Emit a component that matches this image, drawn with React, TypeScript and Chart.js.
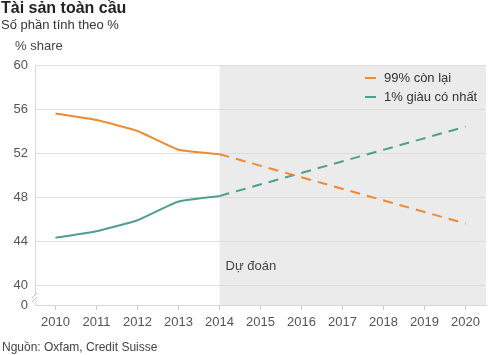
import React, { useEffect, useRef } from "react";
import { Chart, registerables } from "chart.js";
Chart.register(...registerables);

const years = ["2010", "2011", "2012", "2013", "2014", "2015", "2016", "2017", "2018", "2019", "2020"];
const rest99Actual = [55.6, 55.0, 54.0, 52.3, 51.9, null, null, null, null, null, null];
const rest99Forecast = [null, null, null, null, 51.9, null, null, null, null, null, 45.6];
const top1Actual = [44.3, 44.9, 45.9, 47.6, 48.1, null, null, null, null, null, null];
const top1Forecast = [null, null, null, null, 48.1, null, null, null, null, null, 54.4];
const yTicks = [40, 44, 48, 52, 56, 60];
const yBreakValue = 38.2;
const legendLabels = ["99% còn lại", "1% giàu có nhất"];

const ORANGE = "#ee8a33";
const TEAL = "#4f9e94";
const FONT = "'Liberation Sans', Arial, sans-serif";

export default function App() {
  const ref = useRef<HTMLCanvasElement>(null);
  useEffect(() => {
    const canvas = ref.current!;
    const overlay = {
      id: "overlay",
      beforeDatasetsDraw(chart: any) {
        const { ctx, chartArea, scales } = chart;
        const x0 = scales.x.getPixelForValue(4);
        ctx.save();
        ctx.fillStyle = "#ebebeb";
        ctx.fillRect(x0, chartArea.top, chartArea.right - x0, chartArea.bottom - chartArea.top);
        ctx.strokeStyle = "#dcdcdc";
        ctx.lineWidth = 1;
        for (const v of yTicks) {
          const y = Math.round(scales.y.getPixelForValue(v)) + 0.5;
          ctx.beginPath();
          ctx.moveTo(x0, y);
          ctx.lineTo(chartArea.right, y);
          ctx.stroke();
        }
        ctx.fillStyle = "#444";
        ctx.font = "13px " + FONT;
        ctx.textBaseline = "alphabetic";
        ctx.fillText("Dự đoán", x0 + 6, 270);
        ctx.restore();
      },
      afterDraw(chart: any) {
        const { ctx, chartArea } = chart;
        ctx.save();
        const bx = chartArea.left;
        ctx.fillStyle = "#fff";
        ctx.fillRect(bx - 3, 294, 6, 7);
        ctx.strokeStyle = "#bbb";
        ctx.lineWidth = 1;
        ctx.beginPath();
        ctx.moveTo(bx - 3, 298);
        ctx.lineTo(bx + 2, 293);
        ctx.moveTo(bx - 3, 302);
        ctx.lineTo(bx + 2, 297);
        ctx.stroke();
        const cols = [ORANGE, TEAL];
        ctx.font = "13px " + FONT;
        ctx.textBaseline = "middle";
        legendLabels.forEach((l, i) => {
          const y = 78 + i * 19;
          ctx.strokeStyle = cols[i];
          ctx.lineWidth = 2;
          ctx.beginPath();
          ctx.moveTo(365, y);
          ctx.lineTo(376, y);
          ctx.stroke();
          ctx.fillStyle = "#333";
          ctx.fillText(l, 384, y);
        });
        ctx.restore();
      },
    };
    const chart = new Chart(canvas, {
      type: "line",
      data: {
        labels: years,
        datasets: [
          { data: rest99Actual, borderColor: ORANGE, borderWidth: 2, pointRadius: 0, tension: 0.15 },
          { data: rest99Forecast, borderColor: ORANGE, borderWidth: 2, pointRadius: 0, spanGaps: true, borderDash: [10, 7] },
          { data: top1Actual, borderColor: TEAL, borderWidth: 2, pointRadius: 0, tension: 0.15 },
          { data: top1Forecast, borderColor: TEAL, borderWidth: 2, pointRadius: 0, spanGaps: true, borderDash: [10, 7] },
        ],
      },
      options: {
        animation: false,
        responsive: false,
        layout: { padding: { top: 65, right: 14, left: 0, bottom: 0 } },
        plugins: { legend: { display: false }, tooltip: { enabled: false } },
        scales: {
          x: {
            type: "category",
            offset: true,
            afterFit(s: any) { s.height = 50; },
            grid: { drawOnChartArea: false, drawTicks: true, tickLength: 5, offset: false, color: "#ccc" },
            border: { color: "#d6d6d6" },
            ticks: { color: "#555", font: { family: FONT, size: 13 }, padding: 5, maxRotation: 0 },
          },
          y: {
            min: yBreakValue,
            max: 60,
            afterFit(s: any) { s.width = 35; },
            afterBuildTicks(s: any) {
              s.ticks = [yBreakValue, ...yTicks].map((v) => ({ value: v }));
            },
            grid: { color: "#e0e0e0", drawTicks: false },
            border: { color: "#d6d6d6" },
            ticks: {
              color: "#555",
              font: { family: FONT, size: 13 },
              padding: 7,
              callback: (v: any) => (v < 39 ? "0" : String(v)),
            },
          },
        },
      } as any,
      plugins: [overlay],
    });
    return () => chart.destroy();
  }, []);
  const txt: React.CSSProperties = { position: "absolute", fontFamily: FONT, color: "#333", whiteSpace: "nowrap" };
  return (
    <div style={{ position: "absolute", left: 0, top: 0, width: 500, height: 355, background: "#fff" }}>
      <canvas ref={ref} width={500} height={355} style={{ position: "absolute", left: 0, top: 0 }} />
      <div style={{ ...txt, left: 1, top: -1, fontSize: 16, fontWeight: "bold", color: "#222" }}>Tài sản toàn cầu</div>
      <div style={{ ...txt, left: 1, top: 17, fontSize: 13 }}>Số phần tính theo %</div>
      <div style={{ ...txt, left: 15, top: 38, fontSize: 13, color: "#444" }}>% share</div>
      <div style={{ ...txt, left: 2, top: 340, fontSize: 12, color: "#444" }}>Nguồn: Oxfam, Credit Suisse</div>
    </div>
  );
}
